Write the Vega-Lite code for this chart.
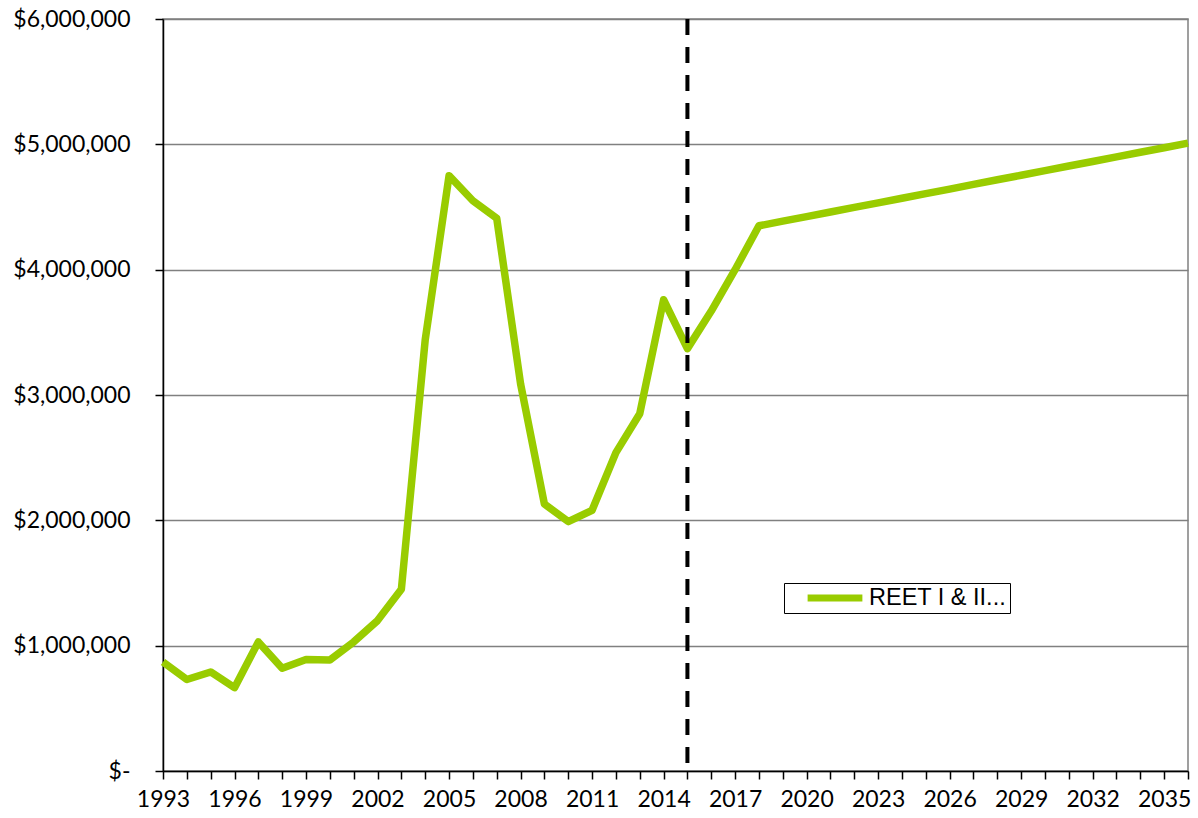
{
  "$schema": "https://vega.github.io/schema/vega-lite/v6.json",
  "width": 1025,
  "height": 752,
  "autosize": {"type": "none"},
  "padding": {"left": 163, "top": 19, "right": 10, "bottom": 47},
  "background": "white",
  "config": {
    "view": {"stroke": "#808080", "strokeWidth": 1.5},
    "axis": {"labelFont": "Lato", "labelFontSize": 23, "labelColor": "black", "labelOverlap": false}
  },
  "layer": [
    {
      "data": {"values": [
        {"year": 1993, "value": 870000, "series": "REET I & II..."},
        {"year": 1994, "value": 730000, "series": "REET I & II..."},
        {"year": 1995, "value": 790000, "series": "REET I & II..."},
        {"year": 1996, "value": 665000, "series": "REET I & II..."},
        {"year": 1997, "value": 1030000, "series": "REET I & II..."},
        {"year": 1998, "value": 820000, "series": "REET I & II..."},
        {"year": 1999, "value": 890000, "series": "REET I & II..."},
        {"year": 2000, "value": 885000, "series": "REET I & II..."},
        {"year": 2001, "value": 1030000, "series": "REET I & II..."},
        {"year": 2002, "value": 1200000, "series": "REET I & II..."},
        {"year": 2003, "value": 1450000, "series": "REET I & II..."},
        {"year": 2004, "value": 3440000, "series": "REET I & II..."},
        {"year": 2005, "value": 4750000, "series": "REET I & II..."},
        {"year": 2006, "value": 4550000, "series": "REET I & II..."},
        {"year": 2007, "value": 4410000, "series": "REET I & II..."},
        {"year": 2008, "value": 3090000, "series": "REET I & II..."},
        {"year": 2009, "value": 2130000, "series": "REET I & II..."},
        {"year": 2010, "value": 1990000, "series": "REET I & II..."},
        {"year": 2011, "value": 2080000, "series": "REET I & II..."},
        {"year": 2012, "value": 2540000, "series": "REET I & II..."},
        {"year": 2013, "value": 2850000, "series": "REET I & II..."},
        {"year": 2014, "value": 3760000, "series": "REET I & II..."},
        {"year": 2015, "value": 3370000, "series": "REET I & II..."},
        {"year": 2016, "value": 3670000, "series": "REET I & II..."},
        {"year": 2017, "value": 4000000, "series": "REET I & II..."},
        {"year": 2018, "value": 4350000, "series": "REET I & II..."},
        {"year": 2019, "value": 4387000, "series": "REET I & II..."},
        {"year": 2020, "value": 4423000, "series": "REET I & II..."},
        {"year": 2021, "value": 4460000, "series": "REET I & II..."},
        {"year": 2022, "value": 4497000, "series": "REET I & II..."},
        {"year": 2023, "value": 4533000, "series": "REET I & II..."},
        {"year": 2024, "value": 4570000, "series": "REET I & II..."},
        {"year": 2025, "value": 4607000, "series": "REET I & II..."},
        {"year": 2026, "value": 4643000, "series": "REET I & II..."},
        {"year": 2027, "value": 4680000, "series": "REET I & II..."},
        {"year": 2028, "value": 4717000, "series": "REET I & II..."},
        {"year": 2029, "value": 4753000, "series": "REET I & II..."},
        {"year": 2030, "value": 4790000, "series": "REET I & II..."},
        {"year": 2031, "value": 4827000, "series": "REET I & II..."},
        {"year": 2032, "value": 4863000, "series": "REET I & II..."},
        {"year": 2033, "value": 4900000, "series": "REET I & II..."},
        {"year": 2034, "value": 4937000, "series": "REET I & II..."},
        {"year": 2035, "value": 4973000, "series": "REET I & II..."},
        {"year": 2036, "value": 5010000, "series": "REET I & II..."}
      ]},
      "mark": {"type": "line", "strokeWidth": 7.5, "strokeJoin": "round", "strokeCap": "butt"},
      "encoding": {
        "x": {
          "field": "year", "type": "quantitative",
          "scale": {"domain": [1993, 2036], "nice": false, "zero": false},
          "axis": {
            "title": null, "grid": false, "tickCount": 100,
            "values": [1993,1994,1995,1996,1997,1998,1999,2000,2001,2002,2003,2004,2005,2006,2007,2008,2009,2010,2011,2012,2013,2014,2015,2016,2017,2018,2019,2020,2021,2022,2023,2024,2025,2026,2027,2028,2029,2030,2031,2032,2033,2034,2035,2036],
            "labelExpr": "(datum.value - 1993) % 3 == 0 ? format(datum.value, 'd') : ''",
            "domainColor": "black", "domainWidth": 1.5,
            "tickColor": "black", "tickWidth": 1.5, "tickSize": 8,
            "labelPadding": 9, "labelOverlap": false, "labelFlush": false, "labelBound": false
          }
        },
        "y": {
          "field": "value", "type": "quantitative",
          "scale": {"domain": [0, 6000000], "nice": false},
          "axis": {
            "title": null,
            "values": [0, 1000000, 2000000, 3000000, 4000000, 5000000, 6000000],
            "labelExpr": "datum.value == 0 ? '$-' : format(datum.value, '$,.0f')",
            "grid": true, "gridColor": "#808080", "gridWidth": 1.5,
            "domainColor": "black", "domainWidth": 1.5,
            "tickColor": "black", "tickWidth": 1.5, "tickSize": 8,
            "labelPadding": 25
          }
        },
        "color": {
          "field": "series", "type": "nominal",
          "scale": {"domain": ["REET I & II..."], "range": ["#99CC00"]},
          "legend": {
            "title": null, "orient": "none", "legendX": 621, "legendY": 564,
            "symbolType": "stroke", "symbolSize": 3000, "symbolStrokeWidth": 7,
            "symbolOffset": 17, "labelOffset": 3, "clipHeight": 24,
            "labelFont": "Liberation Sans", "labelFontSize": 23.5, "labelColor": "black",
            "strokeColor": "black", "padding": 3, "fillColor": "white"
          }
        }
      }
    },
    {
      "data": {"values": [{"year": 2015}]},
      "mark": {"type": "rule", "color": "black", "strokeWidth": 4, "strokeDash": [16, 12]},
      "encoding": {"x": {"field": "year", "type": "quantitative"}}
    }
  ]
}
